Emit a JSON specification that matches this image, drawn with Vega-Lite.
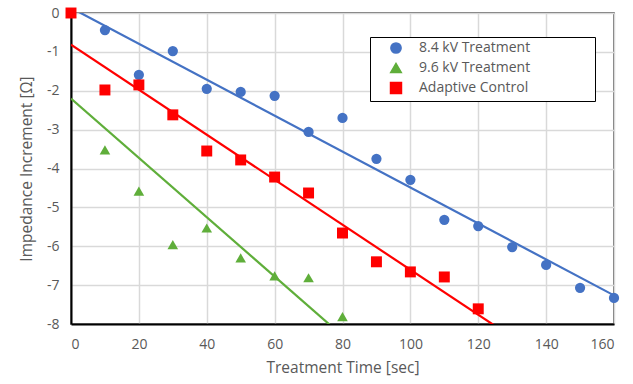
{
  "$schema": "https://vega.github.io/schema/vega-lite/v6.json",
  "autosize": "none",
  "width": 543,
  "height": 311,
  "padding": {"left": 71, "top": 13, "right": 19, "bottom": 60},
  "background": "white",
  "config": {
    "font": "Open Sans",
    "view": {"stroke": "#404040", "strokeWidth": 1.5},
    "axis": {
      "labelFont": "Open Sans", "titleFont": "Open Sans",
      "labelFontSize": 14, "titleFontSize": 15.5,
      "labelColor": "#595959", "titleColor": "#595959",
      "titleFontWeight": "normal",
      "gridColor": "#d9d9d9", "gridWidth": 1.5,
      "domainColor": "#000000", "domainWidth": 2,
      "ticks": false, "labelOverlap": false
    }
  },
  "data": {
    "values": [
      {"series": "8.4 kV Treatment", "t": 0, "z": 0},
      {"series": "8.4 kV Treatment", "t": 10, "z": -0.44},
      {"series": "8.4 kV Treatment", "t": 20, "z": -1.59},
      {"series": "8.4 kV Treatment", "t": 30, "z": -0.98},
      {"series": "8.4 kV Treatment", "t": 40, "z": -1.95},
      {"series": "8.4 kV Treatment", "t": 50, "z": -2.03},
      {"series": "8.4 kV Treatment", "t": 60, "z": -2.13},
      {"series": "8.4 kV Treatment", "t": 70, "z": -3.06},
      {"series": "8.4 kV Treatment", "t": 80, "z": -2.70},
      {"series": "8.4 kV Treatment", "t": 90, "z": -3.75},
      {"series": "8.4 kV Treatment", "t": 100, "z": -4.29},
      {"series": "8.4 kV Treatment", "t": 110, "z": -5.32},
      {"series": "8.4 kV Treatment", "t": 120, "z": -5.48},
      {"series": "8.4 kV Treatment", "t": 130, "z": -6.02},
      {"series": "8.4 kV Treatment", "t": 140, "z": -6.48},
      {"series": "8.4 kV Treatment", "t": 150, "z": -7.07},
      {"series": "8.4 kV Treatment", "t": 160, "z": -7.33},
      {"series": "9.6 kV Treatment", "t": 0, "z": 0},
      {"series": "9.6 kV Treatment", "t": 10, "z": -3.52},
      {"series": "9.6 kV Treatment", "t": 20, "z": -4.58},
      {"series": "9.6 kV Treatment", "t": 30, "z": -5.96},
      {"series": "9.6 kV Treatment", "t": 40, "z": -5.53},
      {"series": "9.6 kV Treatment", "t": 50, "z": -6.30},
      {"series": "9.6 kV Treatment", "t": 60, "z": -6.76},
      {"series": "9.6 kV Treatment", "t": 70, "z": -6.81},
      {"series": "9.6 kV Treatment", "t": 80, "z": -7.81},
      {"series": "Adaptive Control", "t": 0, "z": 0},
      {"series": "Adaptive Control", "t": 10, "z": -1.98},
      {"series": "Adaptive Control", "t": 20, "z": -1.85},
      {"series": "Adaptive Control", "t": 30, "z": -2.62},
      {"series": "Adaptive Control", "t": 40, "z": -3.55},
      {"series": "Adaptive Control", "t": 50, "z": -3.78},
      {"series": "Adaptive Control", "t": 60, "z": -4.22},
      {"series": "Adaptive Control", "t": 70, "z": -4.63},
      {"series": "Adaptive Control", "t": 80, "z": -5.66},
      {"series": "Adaptive Control", "t": 90, "z": -6.40},
      {"series": "Adaptive Control", "t": 100, "z": -6.66},
      {"series": "Adaptive Control", "t": 110, "z": -6.79},
      {"series": "Adaptive Control", "t": 120, "z": -7.61}
    ]
  },
  "encoding": {
    "x": {
      "field": "t", "type": "quantitative",
      "scale": {"domain": [0, 160], "nice": false},
      "axis": {"values": [0, 20, 40, 60, 80, 100, 120, 140, 160], "title": "Treatment Time [sec]", "labelPadding": 13, "titlePadding": 9}
    },
    "y": {
      "field": "z", "type": "quantitative",
      "scale": {"domain": [-8, 0], "nice": false},
      "axis": {"values": [0, -1, -2, -3, -4, -5, -6, -7, -8], "labelExpr": "toString(datum.value)", "title": "Impedance Increment [Ω]", "labelPadding": 12, "titlePadding": 12}
    },
    "color": {
      "field": "series", "type": "nominal",
      "scale": {"domain": ["8.4 kV Treatment", "9.6 kV Treatment", "Adaptive Control"], "range": ["#4472C4", "#5FAE3A", "#FF0000"]},
      "legend": {
        "title": null, "orient": "none", "legendX": 299, "legendY": 24,
        "strokeColor": "#000000", "fillColor": "white", "padding": 4,
        "labelFontSize": 14, "labelColor": "#595959", "labelFont": "Open Sans",
        "labelExpr": "datum.label + '\u2800\u2800\u2800\u2800\u2800\u2800'",
        "labelLimit": 400,
        "symbolSize": 110, "rowPadding": 3, "labelOffset": 16, "symbolOffset": 15, "symbolOpacity": 1
      }
    }
  },
  "layer": [
    {
      "transform": [
        {"regression": "z", "on": "t", "groupby": ["series"], "extent": [0, 160]}
      ],
      "mark": {"type": "line", "clip": true, "strokeWidth": 2.2}
    },
    {
      "mark": {"type": "point", "filled": true, "opacity": 1},
      "encoding": {
        "shape": {
          "field": "series", "type": "nominal",
          "scale": {"domain": ["8.4 kV Treatment", "9.6 kV Treatment", "Adaptive Control"], "range": ["circle", "triangle-up", "square"]}
        },
        "size": {
          "field": "series", "type": "nominal",
          "scale": {"domain": ["8.4 kV Treatment", "9.6 kV Treatment", "Adaptive Control"], "range": [105, 120, 135]},
          "legend": null
        }
      }
    }
  ]
}
